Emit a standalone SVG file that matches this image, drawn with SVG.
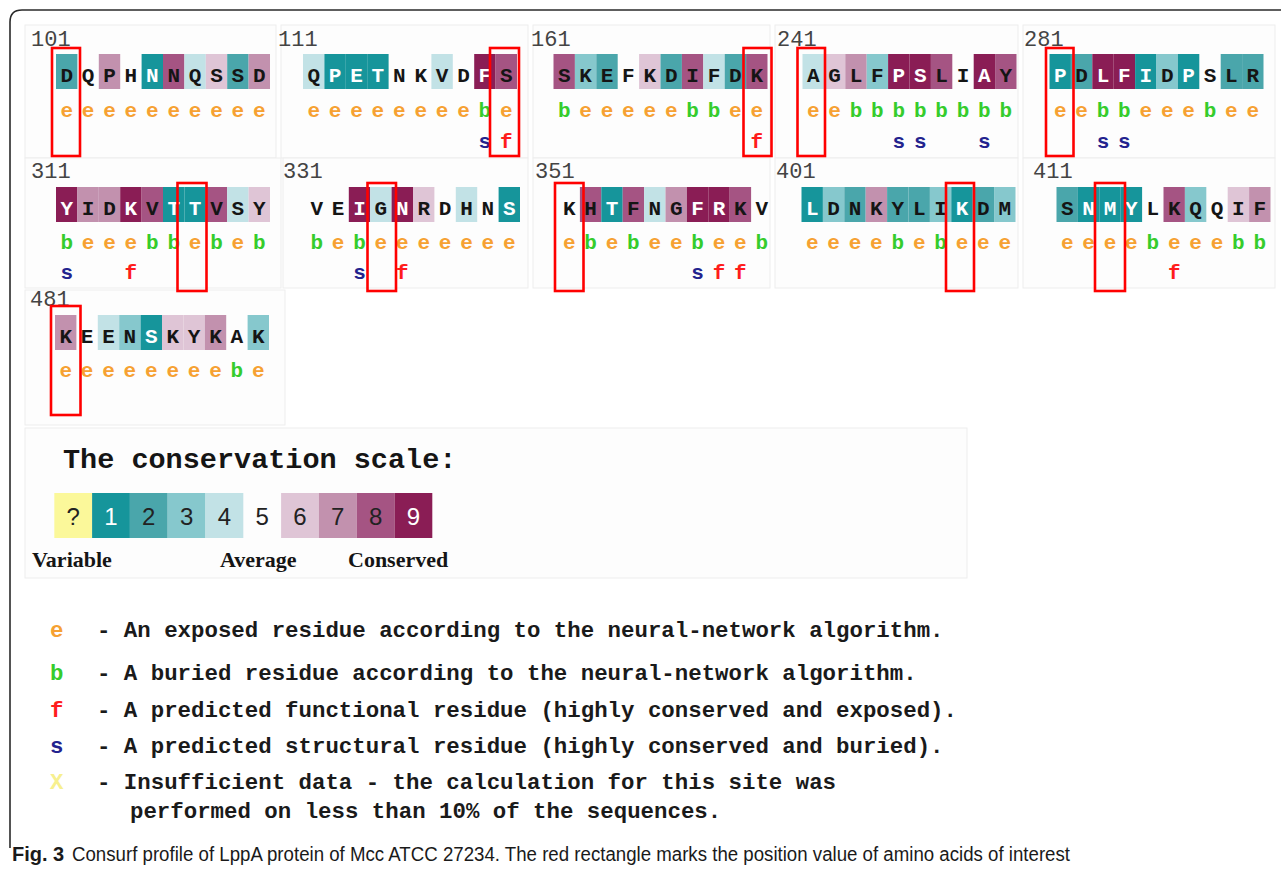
<svg xmlns="http://www.w3.org/2000/svg" width="1281" height="873" viewBox="0 0 1281 873">
<style>
  .bg{fill:#ffffff}
  .panel{fill:#fdfdfd;stroke:#ededed;stroke-width:1}
  .frame{fill:none;stroke:#2a2a2a;stroke-width:1.6}
  .num{font-family:"Liberation Mono","DejaVu Sans Mono",monospace;font-size:22px;fill:#444}
  .res{font-family:"Liberation Mono","DejaVu Sans Mono",monospace;font-size:21px;font-weight:bold;fill:#151515;text-anchor:middle}
  .res .w{fill:#ffffff}
  .tag{font-family:"Liberation Mono","DejaVu Sans Mono",monospace;font-size:21px;font-weight:bold;text-anchor:middle}
  .e{fill:#f6a132}.b{fill:#35cc2c}.f{fill:#ff1c1c}.s{fill:#23238e}.x{fill:#f7f08f}
  .c1{fill:#16959b}.c2{fill:#4aa6ab}.c3{fill:#86c8cd}.c4{fill:#c2e2e6}
  .c6{fill:#dfc5d6}.c7{fill:#c291ae}.c8{fill:#a55483}.c9{fill:#8a1d55}.cq{fill:#fbf89a}
  .hl{fill:none;stroke:#ff0000;stroke-width:2.6}
  .title{font-family:"Liberation Mono","DejaVu Sans Mono",monospace;font-size:28.5px;font-weight:bold;fill:#151515}
  .digit{font-family:"Liberation Sans",Arial,sans-serif;font-size:24px;fill:#222;text-anchor:middle}
  .lab{font-family:"Liberation Serif","Times New Roman",serif;font-size:22px;font-weight:bold;fill:#151515}
  .leg{font-family:"Liberation Mono","DejaVu Sans Mono",monospace;font-size:22.4px;font-weight:bold;fill:#1a1a1a}
  .legk{font-family:"Liberation Mono","DejaVu Sans Mono",monospace;font-size:22.4px;font-weight:bold}
  .cap{font-family:"Liberation Sans",Arial,sans-serif;font-size:20px;fill:#1a1a1a}
</style>

<rect class="bg" x="0" y="0" width="1281" height="873"/>
<path class="frame" d="M10,848 V22 Q10,10 22,10 H1281"/>

<!-- faint panels behind each block -->
<g id="panels">
  <rect class="panel" x="25" y="25" width="251" height="133"/>
  <rect class="panel" x="281" y="25" width="247" height="133"/>
  <rect class="panel" x="533" y="25" width="237" height="133"/>
  <rect class="panel" x="775" y="25" width="243" height="133"/>
  <rect class="panel" x="1023" y="25" width="252" height="133"/>
  <rect class="panel" x="25" y="158" width="256" height="130"/>
  <rect class="panel" x="283" y="158" width="245" height="130"/>
  <rect class="panel" x="533" y="158" width="237" height="130"/>
  <rect class="panel" x="775" y="158" width="243" height="130"/>
  <rect class="panel" x="1023" y="158" width="252" height="130"/>
  <rect class="panel" x="25" y="290" width="260" height="135"/>
  <rect class="panel" x="25" y="428" width="942" height="150"/>
</g>

<!-- row 1 -->
<g id="block-101">
  <text class="num" x="31" y="46">101</text>
  <rect class="c2" x="56" y="54" width="21.4" height="35"/>
  <rect class="c7" x="98.8" y="54" width="21.4" height="35"/>
  <rect class="c1" x="141.6" y="54" width="21.4" height="35"/>
  <rect class="c8" x="163" y="54" width="21.4" height="35"/>
  <rect class="c4" x="184.4" y="54" width="21.4" height="35"/>
  <rect class="c6" x="205.8" y="54" width="21.4" height="35"/>
  <rect class="c2" x="227.2" y="54" width="21.4" height="35"/>
  <rect class="c7" x="248.6" y="54" width="21.4" height="35"/>
  <text class="res" y="82"><tspan x="66.7">D</tspan><tspan x="88.1">Q</tspan><tspan x="109.5">P</tspan><tspan x="130.9">H</tspan><tspan x="152.3" class="w">N</tspan><tspan x="173.7">N</tspan><tspan x="195.1">Q</tspan><tspan x="216.5">S</tspan><tspan x="237.9">S</tspan><tspan x="259.3">D</tspan></text>
  <text class="tag e" y="117"><tspan x="66.7">e</tspan><tspan x="88.1">e</tspan><tspan x="109.5">e</tspan><tspan x="130.9">e</tspan><tspan x="152.3">e</tspan><tspan x="173.7">e</tspan><tspan x="195.1">e</tspan><tspan x="216.5">e</tspan><tspan x="237.9">e</tspan><tspan x="259.3">e</tspan></text>
  <rect class="hl" x="52" y="48" width="28" height="108"/>
</g>

<g id="block-111">
  <text class="num" x="278" y="46">111</text>
  <rect class="c4" x="303" y="54" width="21.4" height="35"/>
  <rect class="c1" x="324.4" y="54" width="21.4" height="35"/>
  <rect class="c1" x="345.8" y="54" width="21.4" height="35"/>
  <rect class="c1" x="367.2" y="54" width="21.4" height="35"/>
  <rect class="c4" x="431.4" y="54" width="21.4" height="35"/>
  <rect class="c9" x="474.2" y="54" width="21.4" height="35"/>
  <rect class="c8" x="495.6" y="54" width="21.4" height="35"/>
  <text class="res" y="82"><tspan x="313.7">Q</tspan><tspan x="335.1" class="w">P</tspan><tspan x="356.5" class="w">E</tspan><tspan x="377.9" class="w">T</tspan><tspan x="399.3">N</tspan><tspan x="420.7">K</tspan><tspan x="442.1">V</tspan><tspan x="463.5">D</tspan><tspan x="484.9" class="w">F</tspan><tspan x="506.3">S</tspan></text>
  <text class="tag e" y="117"><tspan x="313.7">e</tspan><tspan x="335.1">e</tspan><tspan x="356.5">e</tspan><tspan x="377.9">e</tspan><tspan x="399.3">e</tspan><tspan x="420.7">e</tspan><tspan x="442.1">e</tspan><tspan x="463.5">e</tspan><tspan x="506.3">e</tspan></text>
  <text class="tag b" x="484.9" y="117">b</text>
  <text class="tag s" x="484.9" y="148">s</text>
  <text class="tag f" x="506.3" y="148">f</text>
  <rect class="hl" x="490" y="48" width="29" height="108"/>
</g>

<g id="block-161">
  <text class="num" x="531" y="46">161</text>
  <rect class="c8" x="553.5" y="54" width="21.4" height="35"/>
  <rect class="c3" x="574.9" y="54" width="21.4" height="35"/>
  <rect class="c2" x="596.3" y="54" width="21.4" height="35"/>
  <rect class="c6" x="639.1" y="54" width="21.4" height="35"/>
  <rect class="c2" x="660.5" y="54" width="21.4" height="35"/>
  <rect class="c8" x="681.9" y="54" width="21.4" height="35"/>
  <rect class="c4" x="703.3" y="54" width="21.4" height="35"/>
  <rect class="c2" x="724.7" y="54" width="21.4" height="35"/>
  <rect class="c8" x="746.1" y="54" width="21.4" height="35"/>
  <text class="res" y="82"><tspan x="564.2">S</tspan><tspan x="585.6">K</tspan><tspan x="607">E</tspan><tspan x="628.4">F</tspan><tspan x="649.8">K</tspan><tspan x="671.2">D</tspan><tspan x="692.6">I</tspan><tspan x="714">F</tspan><tspan x="735.4">D</tspan><tspan x="756.8">K</tspan></text>
  <text class="tag e" y="117"><tspan x="585.6">e</tspan><tspan x="607">e</tspan><tspan x="628.4">e</tspan><tspan x="649.8">e</tspan><tspan x="671.2">e</tspan><tspan x="735.4">e</tspan><tspan x="756.8">e</tspan></text>
  <text class="tag b" y="117"><tspan x="564.2">b</tspan><tspan x="692.6">b</tspan><tspan x="714">b</tspan></text>
  <text class="tag f" x="756.8" y="148">f</text>
  <rect class="hl" x="743.5" y="48" width="28" height="108"/>
</g>

<g id="block-241">
  <text class="num" x="777" y="46">241</text>
  <rect class="c4" x="802.5" y="54" width="21.4" height="35"/>
  <rect class="c6" x="823.9" y="54" width="21.4" height="35"/>
  <rect class="c7" x="845.3" y="54" width="21.4" height="35"/>
  <rect class="c3" x="866.7" y="54" width="21.4" height="35"/>
  <rect class="c9" x="888.1" y="54" width="21.4" height="35"/>
  <rect class="c9" x="909.5" y="54" width="21.4" height="35"/>
  <rect class="c8" x="930.9" y="54" width="21.4" height="35"/>
  <rect class="c9" x="973.7" y="54" width="21.4" height="35"/>
  <rect class="c8" x="995.1" y="54" width="21.4" height="35"/>
  <text class="res" y="82"><tspan x="813.2">A</tspan><tspan x="834.6">G</tspan><tspan x="856">L</tspan><tspan x="877.4">F</tspan><tspan x="898.8" class="w">P</tspan><tspan x="920.2" class="w">S</tspan><tspan x="941.6">L</tspan><tspan x="963">I</tspan><tspan x="984.4" class="w">A</tspan><tspan x="1005.8">Y</tspan></text>
  <text class="tag e" y="117"><tspan x="813.2">e</tspan><tspan x="834.6">e</tspan></text>
  <text class="tag b" y="117"><tspan x="856">b</tspan><tspan x="877.4">b</tspan><tspan x="898.8">b</tspan><tspan x="920.2">b</tspan><tspan x="941.6">b</tspan><tspan x="963">b</tspan><tspan x="984.4">b</tspan><tspan x="1005.8">b</tspan></text>
  <text class="tag s" y="148"><tspan x="898.8">s</tspan><tspan x="920.2">s</tspan><tspan x="984.4">s</tspan></text>
  <rect class="hl" x="797.5" y="48" width="27.5" height="108"/>
</g>

<g id="block-281">
  <text class="num" x="1024" y="46">281</text>
  <rect class="c1" x="1049.5" y="54" width="21.4" height="35"/>
  <rect class="c2" x="1070.9" y="54" width="21.4" height="35"/>
  <rect class="c9" x="1092.3" y="54" width="21.4" height="35"/>
  <rect class="c9" x="1113.7" y="54" width="21.4" height="35"/>
  <rect class="c1" x="1135.1" y="54" width="21.4" height="35"/>
  <rect class="c3" x="1156.5" y="54" width="21.4" height="35"/>
  <rect class="c1" x="1177.9" y="54" width="21.4" height="35"/>
  <rect class="c2" x="1220.7" y="54" width="21.4" height="35"/>
  <rect class="c2" x="1242.1" y="54" width="21.4" height="35"/>
  <text class="res" y="82"><tspan x="1060.2" class="w">P</tspan><tspan x="1081.6">D</tspan><tspan x="1103" class="w">L</tspan><tspan x="1124.4" class="w">F</tspan><tspan x="1145.8" class="w">I</tspan><tspan x="1167.2">D</tspan><tspan x="1188.6" class="w">P</tspan><tspan x="1210">S</tspan><tspan x="1231.4">L</tspan><tspan x="1252.8">R</tspan></text>
  <text class="tag e" y="117"><tspan x="1060.2">e</tspan><tspan x="1081.6">e</tspan><tspan x="1145.8">e</tspan><tspan x="1167.2">e</tspan><tspan x="1188.6">e</tspan><tspan x="1231.4">e</tspan><tspan x="1252.8">e</tspan></text>
  <text class="tag b" y="117"><tspan x="1103">b</tspan><tspan x="1124.4">b</tspan><tspan x="1210">b</tspan></text>
  <text class="tag s" y="148"><tspan x="1103">s</tspan><tspan x="1124.4">s</tspan></text>
  <rect class="hl" x="1046" y="48" width="27.5" height="108"/>
</g>

<!-- row 2 -->
<g id="block-311">
  <text class="num" x="31" y="178">311</text>
  <rect class="c9" x="56" y="187" width="21.4" height="35"/>
  <rect class="c7" x="77.4" y="187" width="21.4" height="35"/>
  <rect class="c7" x="98.8" y="187" width="21.4" height="35"/>
  <rect class="c9" x="120.2" y="187" width="21.4" height="35"/>
  <rect class="c8" x="141.6" y="187" width="21.4" height="35"/>
  <rect class="c1" x="163" y="187" width="21.4" height="35"/>
  <rect class="c1" x="184.4" y="187" width="21.4" height="35"/>
  <rect class="c8" x="205.8" y="187" width="21.4" height="35"/>
  <rect class="c4" x="227.2" y="187" width="21.4" height="35"/>
  <rect class="c6" x="248.6" y="187" width="21.4" height="35"/>
  <text class="res" y="215"><tspan x="66.7" class="w">Y</tspan><tspan x="88.1">I</tspan><tspan x="109.5">D</tspan><tspan x="130.9" class="w">K</tspan><tspan x="152.3">V</tspan><tspan x="173.7" class="w">T</tspan><tspan x="195.1" class="w">T</tspan><tspan x="216.5">V</tspan><tspan x="237.9">S</tspan><tspan x="259.3">Y</tspan></text>
  <text class="tag e" y="249"><tspan x="88.1">e</tspan><tspan x="109.5">e</tspan><tspan x="130.9">e</tspan><tspan x="195.1">e</tspan><tspan x="237.9">e</tspan></text>
  <text class="tag b" y="249"><tspan x="66.7">b</tspan><tspan x="152.3">b</tspan><tspan x="173.7">b</tspan><tspan x="216.5">b</tspan><tspan x="259.3">b</tspan></text>
  <text class="tag s" x="66.7" y="279">s</text>
  <text class="tag f" x="130.9" y="279">f</text>
  <rect class="hl" x="177.5" y="183" width="29" height="108"/>
</g>

<g id="block-331">
  <text class="num" x="283" y="178">331</text>
  <rect class="c9" x="348.8" y="187" width="21.4" height="35"/>
  <rect class="c4" x="370.2" y="187" width="21.4" height="35"/>
  <rect class="c9" x="391.6" y="187" width="21.4" height="35"/>
  <rect class="c6" x="413" y="187" width="21.4" height="35"/>
  <rect class="c4" x="455.8" y="187" width="21.4" height="35"/>
  <rect class="c1" x="498.6" y="187" width="21.4" height="35"/>
  <text class="res" y="215"><tspan x="316.7">V</tspan><tspan x="338.1">E</tspan><tspan x="359.5" class="w">I</tspan><tspan x="380.9">G</tspan><tspan x="402.3" class="w">N</tspan><tspan x="423.7">R</tspan><tspan x="445.1">D</tspan><tspan x="466.5">H</tspan><tspan x="487.9">N</tspan><tspan x="509.3" class="w">S</tspan></text>
  <text class="tag e" y="249"><tspan x="338.1">e</tspan><tspan x="380.9">e</tspan><tspan x="402.3">e</tspan><tspan x="423.7">e</tspan><tspan x="445.1">e</tspan><tspan x="466.5">e</tspan><tspan x="487.9">e</tspan><tspan x="509.3">e</tspan></text>
  <text class="tag b" y="249"><tspan x="316.7">b</tspan><tspan x="359.5">b</tspan></text>
  <text class="tag s" x="359.5" y="279">s</text>
  <text class="tag f" x="402.3" y="279">f</text>
  <rect class="hl" x="367.5" y="183" width="28.5" height="108"/>
</g>

<g id="block-351">
  <text class="num" x="535" y="178">351</text>
  <rect class="c8" x="579.9" y="187" width="21.4" height="35"/>
  <rect class="c1" x="601.3" y="187" width="21.4" height="35"/>
  <rect class="c8" x="622.7" y="187" width="21.4" height="35"/>
  <rect class="c4" x="644.1" y="187" width="21.4" height="35"/>
  <rect class="c7" x="665.5" y="187" width="21.4" height="35"/>
  <rect class="c9" x="686.9" y="187" width="21.4" height="35"/>
  <rect class="c9" x="708.3" y="187" width="21.4" height="35"/>
  <rect class="c8" x="729.7" y="187" width="21.4" height="35"/>
  <text class="res" y="215"><tspan x="569.2">K</tspan><tspan x="590.6">H</tspan><tspan x="612" class="w">T</tspan><tspan x="633.4">F</tspan><tspan x="654.8">N</tspan><tspan x="676.2">G</tspan><tspan x="697.6" class="w">F</tspan><tspan x="719" class="w">R</tspan><tspan x="740.4">K</tspan><tspan x="761.8">V</tspan></text>
  <text class="tag e" y="249"><tspan x="569.2">e</tspan><tspan x="612">e</tspan><tspan x="654.8">e</tspan><tspan x="676.2">e</tspan><tspan x="719">e</tspan><tspan x="740.4">e</tspan></text>
  <text class="tag b" y="249"><tspan x="590.6">b</tspan><tspan x="633.4">b</tspan><tspan x="697.6">b</tspan><tspan x="761.8">b</tspan></text>
  <text class="tag s" x="697.6" y="279">s</text>
  <text class="tag f" y="279"><tspan x="719">f</tspan><tspan x="740.4">f</tspan></text>
  <rect class="hl" x="555" y="183" width="28.5" height="108"/>
</g>

<g id="block-401">
  <text class="num" x="776" y="178">401</text>
  <rect class="c1" x="801.5" y="187" width="21.4" height="35"/>
  <rect class="c3" x="822.9" y="187" width="21.4" height="35"/>
  <rect class="c2" x="844.3" y="187" width="21.4" height="35"/>
  <rect class="c7" x="865.7" y="187" width="21.4" height="35"/>
  <rect class="c2" x="887.1" y="187" width="21.4" height="35"/>
  <rect class="c2" x="908.5" y="187" width="21.4" height="35"/>
  <rect class="c3" x="929.9" y="187" width="21.4" height="35"/>
  <rect class="c1" x="951.3" y="187" width="21.4" height="35"/>
  <rect class="c2" x="972.7" y="187" width="21.4" height="35"/>
  <rect class="c3" x="994.1" y="187" width="21.4" height="35"/>
  <text class="res" y="215"><tspan x="812.2" class="w">L</tspan><tspan x="833.6">D</tspan><tspan x="855">N</tspan><tspan x="876.4">K</tspan><tspan x="897.8">Y</tspan><tspan x="919.2">L</tspan><tspan x="940.6">I</tspan><tspan x="962" class="w">K</tspan><tspan x="983.4">D</tspan><tspan x="1004.8">M</tspan></text>
  <text class="tag e" y="249"><tspan x="812.2">e</tspan><tspan x="833.6">e</tspan><tspan x="855">e</tspan><tspan x="876.4">e</tspan><tspan x="919.2">e</tspan><tspan x="962">e</tspan><tspan x="983.4">e</tspan><tspan x="1004.8">e</tspan></text>
  <text class="tag b" y="249"><tspan x="897.8">b</tspan><tspan x="940.6">b</tspan></text>
  <rect class="hl" x="946" y="183" width="28" height="108"/>
</g>

<g id="block-411">
  <text class="num" x="1033" y="178">411</text>
  <rect class="c2" x="1056.5" y="187" width="21.4" height="35"/>
  <rect class="c1" x="1077.9" y="187" width="21.4" height="35"/>
  <rect class="c1" x="1099.3" y="187" width="21.4" height="35"/>
  <rect class="c1" x="1120.7" y="187" width="21.4" height="35"/>
  <rect class="c8" x="1163.5" y="187" width="21.4" height="35"/>
  <rect class="c3" x="1184.9" y="187" width="21.4" height="35"/>
  <rect class="c6" x="1227.7" y="187" width="21.4" height="35"/>
  <rect class="c7" x="1249.1" y="187" width="21.4" height="35"/>
  <text class="res" y="215"><tspan x="1067.2">S</tspan><tspan x="1088.6" class="w">N</tspan><tspan x="1110" class="w">M</tspan><tspan x="1131.4" class="w">Y</tspan><tspan x="1152.8">L</tspan><tspan x="1174.2">K</tspan><tspan x="1195.6">Q</tspan><tspan x="1217">Q</tspan><tspan x="1238.4">I</tspan><tspan x="1259.8">F</tspan></text>
  <text class="tag e" y="249"><tspan x="1067.2">e</tspan><tspan x="1088.6">e</tspan><tspan x="1110">e</tspan><tspan x="1131.4">e</tspan><tspan x="1174.2">e</tspan><tspan x="1195.6">e</tspan><tspan x="1217">e</tspan></text>
  <text class="tag b" y="249"><tspan x="1152.8">b</tspan><tspan x="1238.4">b</tspan><tspan x="1259.8">b</tspan></text>
  <text class="tag f" x="1174.2" y="279">f</text>
  <rect class="hl" x="1095" y="183" width="30" height="108"/>
</g>

<!-- row 3 -->
<g id="block-481">
  <text class="num" x="30" y="306">481</text>
  <rect class="c7" x="55" y="315" width="21.4" height="35"/>
  <rect class="c4" x="97.8" y="315" width="21.4" height="35"/>
  <rect class="c3" x="119.2" y="315" width="21.4" height="35"/>
  <rect class="c1" x="140.6" y="315" width="21.4" height="35"/>
  <rect class="c6" x="162" y="315" width="21.4" height="35"/>
  <rect class="c6" x="183.4" y="315" width="21.4" height="35"/>
  <rect class="c7" x="204.8" y="315" width="21.4" height="35"/>
  <rect class="c3" x="247.6" y="315" width="21.4" height="35"/>
  <text class="res" y="343"><tspan x="65.7">K</tspan><tspan x="87.1">E</tspan><tspan x="108.5">E</tspan><tspan x="129.9">N</tspan><tspan x="151.3" class="w">S</tspan><tspan x="172.7">K</tspan><tspan x="194.1">Y</tspan><tspan x="215.5">K</tspan><tspan x="236.9">A</tspan><tspan x="258.3">K</tspan></text>
  <text class="tag e" y="377"><tspan x="65.7">e</tspan><tspan x="87.1">e</tspan><tspan x="108.5">e</tspan><tspan x="129.9">e</tspan><tspan x="151.3">e</tspan><tspan x="172.7">e</tspan><tspan x="194.1">e</tspan><tspan x="215.5">e</tspan><tspan x="258.3">e</tspan></text>
  <text class="tag b" x="236.9" y="377">b</text>
  <rect class="hl" x="51" y="306" width="29.5" height="109"/>
</g>

<!-- conservation colour scale -->
<g id="scale">
  <text class="title" x="63" y="468">The conservation scale:</text>
  <rect class="cq" x="54.3" y="493" width="37.8" height="45"/>
  <rect class="c1" x="92.1" y="493" width="37.8" height="45"/>
  <rect class="c2" x="129.9" y="493" width="37.8" height="45"/>
  <rect class="c3" x="167.7" y="493" width="37.8" height="45"/>
  <rect class="c4" x="205.5" y="493" width="37.8" height="45"/>
  <rect class="c6" x="281.1" y="493" width="37.8" height="45"/>
  <rect class="c7" x="318.9" y="493" width="37.8" height="45"/>
  <rect class="c8" x="356.7" y="493" width="37.8" height="45"/>
  <rect class="c9" x="394.5" y="493" width="37.8" height="45"/>
  <text class="digit" y="525"><tspan x="73.2">?</tspan><tspan x="111" fill="#ffffff">1</tspan><tspan x="148.8">2</tspan><tspan x="186.6">3</tspan><tspan x="224.4">4</tspan><tspan x="262.2">5</tspan><tspan x="300">6</tspan><tspan x="337.8">7</tspan><tspan x="375.6">8</tspan><tspan x="413.4" fill="#ffffff">9</tspan></text>
  <text class="lab" x="32" y="567">Variable</text>
  <text class="lab" x="220" y="567">Average</text>
  <text class="lab" x="348" y="567">Conserved</text>
</g>

<!-- key to the letter codes -->
<g id="legend">
  <text class="legk e" x="50" y="637">e</text>
  <text class="leg" x="97" y="637">- An exposed residue according to the neural-network algorithm.</text>
  <text class="legk b" x="50" y="680">b</text>
  <text class="leg" x="97" y="680">- A buried residue according to the neural-network algorithm.</text>
  <text class="legk f" x="50" y="717">f</text>
  <text class="leg" x="97" y="717">- A predicted functional residue (highly conserved and exposed).</text>
  <text class="legk s" x="50" y="753">s</text>
  <text class="leg" x="97" y="753">- A predicted structural residue (highly conserved and buried).</text>
  <text class="legk x" x="50" y="789">X</text>
  <text class="leg" x="97" y="789">- Insufficient data - the calculation for this site was</text>
  <text class="leg" x="130" y="818">performed on less than 10% of the sequences.</text>
</g>

<g id="caption">
  <text class="cap" x="12" y="861" font-weight="bold">Fig. 3</text>
  <text class="cap" x="72" y="861" textLength="998" lengthAdjust="spacingAndGlyphs">Consurf profile of LppA protein of Mcc ATCC 27234. The red rectangle marks the position value of amino acids of interest</text>
</g>
</svg>
